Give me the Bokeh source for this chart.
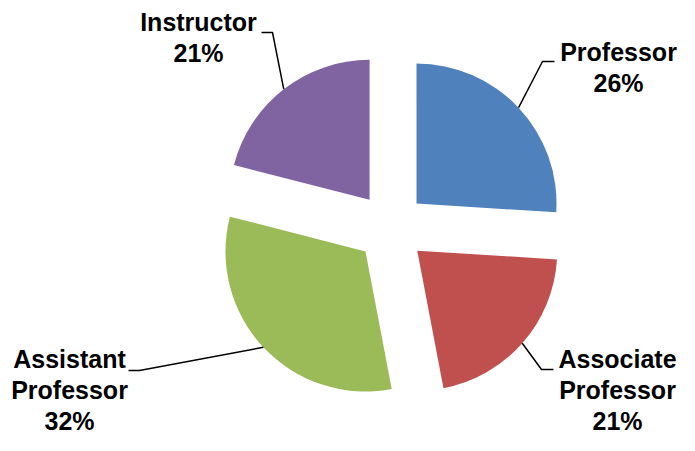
import numpy as np
from bokeh.plotting import figure
from bokeh.models import Range1d, ColumnDataSource
from bokeh.embed import file_html
from bokeh.resources import INLINE
from bokeh.core.properties import value

# ---- data ----
categories = ["Professor", "Associate Professor", "Assistant Professor", "Instructor"]
percents = [26, 21, 32, 21]
colors = ["#4F81BD", "#C0504D", "#9BBB59", "#8064A2"]

# ---- layout (picture pixel coordinates, origin top-left) ----
W, H = 679, 435
REF_H = 451
CX, CY = 390.5, REF_H - 227.0      # pie centre
R = 140.0                          # radius
EXPLODE = 35.0                     # explosion distance
LINE_H = 31
FONT_PX = "25px"
TEXT_DY = 11                       # renderer places text below its anchor
# per slice: elbow (px, py), end x of horizontal stub, text centre x, first baseline py
label_layout = [
    ((542, 61), 554, 618, 62),
    ((541, 369), 553, 617, 369),
    ((139, 370), 128, 69, 369),
    ((272, 32), 261, 198, 32),
]

def Y(py):
    return REF_H - py

p = figure(width=W, height=H, x_range=Range1d(0, W), y_range=Range1d(REF_H - H, REF_H),
           output_backend="svg", toolbar_location=None, min_border=0,
           x_axis_type=None, y_axis_type=None)
p.grid.visible = False
p.outline_line_color = None
p.background_fill_color = "white"
p.border_fill_color = "white"

vals = np.array(percents, dtype=float)
cum = np.concatenate([[0], np.cumsum(vals)]) / vals.sum()
a_start = np.pi / 2 - 2 * np.pi * cum[:-1]   # clockwise from 12 o'clock
a_end = np.pi / 2 - 2 * np.pi * cum[1:]
mid = (a_start + a_end) / 2
xs = CX + EXPLODE * np.cos(mid)
ys = CY + EXPLODE * np.sin(mid)

src = ColumnDataSource(dict(x=xs, y=ys, start=a_end, end=a_start, color=colors, cat=categories))
p.wedge(x="x", y="y", radius=R, start_angle="start", end_angle="end", direction="anticlock",
        fill_color="color", line_color=None, source=src)

font = value("Liberation Sans")
tx, ty, tt = [], [], []
for i, cat in enumerate(categories):
    (ex, ey), endx, cx, by = label_layout[i]
    sx = xs[i] + R * np.cos(mid[i])
    sy = ys[i] + R * np.sin(mid[i])
    p.line([sx, ex, endx], [sy, Y(ey), Y(ey)], line_color="black", line_width=1.5)
    lines = cat.split(" ") + [f"{percents[i]}%"]
    for k, t in enumerate(lines):
        tx.append(cx)
        ty.append(Y(by + k * LINE_H - TEXT_DY))
        tt.append(t)

p.text(x=tx, y=ty, text=tt, text_font=font, text_font_size=FONT_PX, text_font_style="bold",
       text_align="center", text_baseline="alphabetic", text_color="black")

open("out.html", "w").write(file_html(p, INLINE))
